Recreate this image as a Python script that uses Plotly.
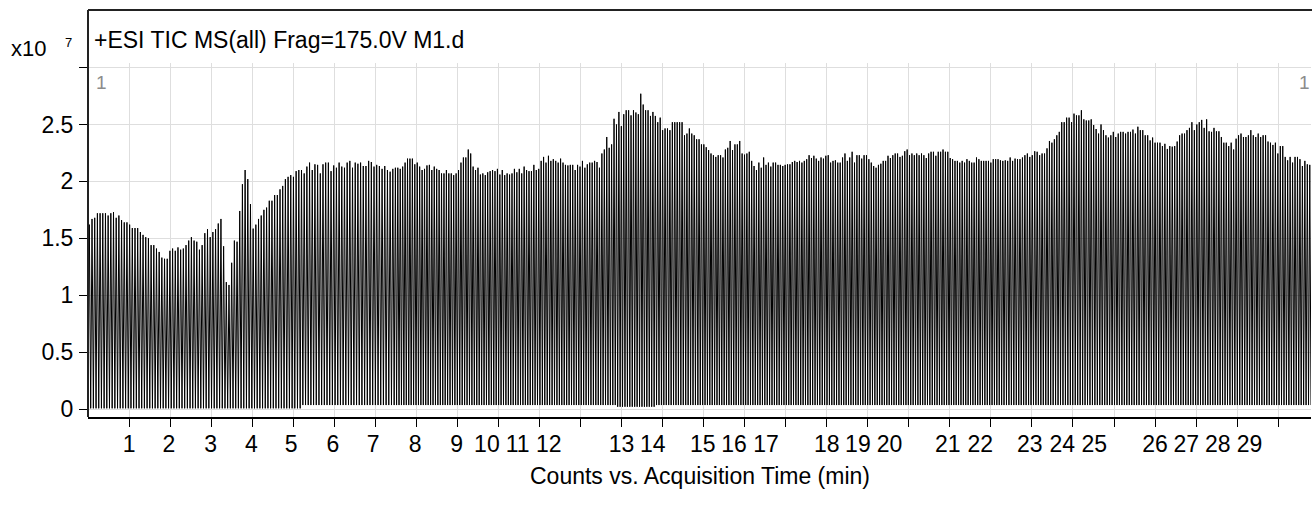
import numpy as np
import plotly.graph_objects as go

# ---------------- data (x10^7 counts) ----------------
# peak (upper) values of the alternating TIC trace, read segment by segment
peaks_a = [1.62, 1.67, 1.68, 1.72, 1.72, 1.72, 1.72, 1.70, 1.72, 1.73, 1.68, 1.70, 1.66, 1.64, 1.64, 1.62,
           1.59, 1.59, 1.59, 1.555, 1.53, 1.51, 1.50, 1.44, 1.44, 1.41, 1.38, 1.33, 1.32, 1.32, 1.39, 1.41,
           1.39, 1.42, 1.40, 1.41, 1.44, 1.48, 1.51, 1.48, 1.47, 1.40, 1.44, 1.545, 1.58, 1.51, 1.555, 1.58,
           1.63, 1.67, 1.43, 1.115, 1.09, 1.285, 1.48, 1.47, 1.74, 1.975, 2.10, 2.02, 1.80, 1.585, 1.62, 1.67,
           1.70, 1.75, 1.77, 1.83, 1.83, 1.88, 1.88, 1.93, 1.96, 2.02, 2.04, 2.055, 2.04, 2.09, 2.10, 2.10,
           2.07, 2.13, 2.165, 2.10, 2.15, 2.145, 2.07, 2.15, 2.165, 2.165, 2.09, 2.14, 2.12, 2.165, 2.13, 2.12,
           2.165, 2.18, 2.12, 2.165, 2.155, 2.165, 2.135, 2.135, 2.18, 2.17, 2.13, 2.145, 2.135, 2.11, 2.135,
           2.10, 2.085, 2.11]
peaks_b = [2.12, 2.12, 2.11, 2.13, 2.165, 2.20, 2.20, 2.20, 2.15, 2.165, 2.13, 2.10, 2.11, 2.14, 2.145, 2.10,
           2.13, 2.11, 2.10, 2.07, 2.07, 2.10, 2.07, 2.07, 2.055, 2.07, 2.10, 2.165, 2.21, 2.21, 2.28, 2.245,
           2.13, 2.10, 2.12, 2.06, 2.07, 2.055, 2.08, 2.09, 2.10, 2.09, 2.11, 2.06, 2.10, 2.055, 2.07, 2.06,
           2.07, 2.11, 2.08, 2.11, 2.07, 2.13, 2.10, 2.09, 2.09, 2.145, 2.10, 2.11, 2.18, 2.215, 2.165, 2.225,
           2.18, 2.195, 2.18, 2.165, 2.20, 2.165, 2.145, 2.14, 2.145, 2.145, 2.10, 2.145, 2.13, 2.18, 2.12,
           2.15, 2.165, 2.165, 2.18, 2.17, 2.12, 2.245, 2.28, 2.39, 2.295, 2.325, 2.55, 2.50, 2.61, 2.485,
           2.59, 2.625, 2.625, 2.58, 2.625, 2.605, 2.59, 2.77, 2.675, 2.625, 2.625, 2.575, 2.61, 2.575, 2.52,
           2.56, 2.45, 2.465, 2.465, 2.45, 2.52, 2.52, 2.52, 2.52, 2.52, 2.405, 2.42, 2.465, 2.42, 2.405, 2.37]
peaks_c = [2.37, 2.325, 2.325, 2.30, 2.275, 2.245, 2.23, 2.215, 2.23, 2.23, 2.21, 2.28, 2.295, 2.355, 2.275,
           2.325, 2.325, 2.355, 2.245, 2.235, 2.245, 2.26, 2.18, 2.135, 2.10, 2.165, 2.12, 2.21, 2.145, 2.165,
           2.13, 2.165, 2.165, 2.145, 2.145, 2.135, 2.145, 2.15, 2.15, 2.17, 2.18, 2.17, 2.18, 2.165, 2.18,
           2.195, 2.23, 2.205, 2.225, 2.20, 2.18, 2.21, 2.20, 2.225, 2.23, 2.165, 2.18, 2.185, 2.165, 2.165,
           2.21, 2.245, 2.18, 2.21, 2.26, 2.165, 2.23, 2.23, 2.20, 2.23, 2.23, 2.195, 2.165, 2.135, 2.12,
           2.145, 2.155, 2.18, 2.18, 2.225, 2.205, 2.23, 2.245, 2.245, 2.215, 2.225, 2.265, 2.28, 2.23, 2.245,
           2.23, 2.245, 2.23, 2.245, 2.23, 2.205, 2.245, 2.26, 2.26, 2.225, 2.26, 2.26, 2.28, 2.26, 2.26,
           2.205, 2.195, 2.18, 2.18, 2.165, 2.18, 2.165, 2.195, 2.18, 2.165, 2.165, 2.21, 2.195, 2.18, 2.18,
           2.18, 2.18, 2.165, 2.195, 2.195, 2.195, 2.185, 2.18]
peaks_d = [2.185, 2.18, 2.21, 2.18, 2.20, 2.195, 2.195, 2.21, 2.23, 2.245, 2.215, 2.23, 2.265, 2.26, 2.23,
           2.245, 2.245, 2.29, 2.355, 2.34, 2.37, 2.405, 2.435, 2.52, 2.52, 2.56, 2.56, 2.52, 2.595, 2.58,
           2.58, 2.625, 2.545, 2.535, 2.535, 2.545, 2.495, 2.46, 2.42, 2.50, 2.45, 2.405, 2.385, 2.405, 2.435,
           2.39, 2.42, 2.435, 2.435, 2.42, 2.435, 2.435, 2.455, 2.42, 2.48, 2.45, 2.45, 2.405, 2.405, 2.36,
           2.385, 2.34, 2.34, 2.34, 2.31, 2.33, 2.285, 2.31, 2.305, 2.31, 2.35, 2.405, 2.42, 2.42, 2.45, 2.47,
           2.52, 2.45, 2.50, 2.52, 2.54, 2.47, 2.545, 2.44, 2.435, 2.47, 2.44, 2.44, 2.39, 2.34, 2.34, 2.31,
           2.34, 2.28, 2.375, 2.405, 2.42, 2.39, 2.39, 2.405, 2.45, 2.405, 2.39, 2.42, 2.39, 2.405, 2.405,
           2.35, 2.34, 2.32, 2.34, 2.245, 2.31, 2.31, 2.215, 2.185, 2.215, 2.165, 2.215, 2.215, 2.195, 2.135,
           2.18, 2.15, 2.145]
# acquisition-time span (min) covered by each block of peaks
segment_edges_min = [0.0, 7.46, 14.86, 22.32, 29.8]
# baseline (low) level between peaks, by time window
baseline_breaks_min = [5.2, 12.9, 13.8]
baseline_levels = [0.006, 0.035, 0.02, 0.035]

# axis ticks
x_ticks = list(range(1, 30))
x_tick_labels = [str(v) for v in range(1, 30)]
x_label_pos = [1.0, 1.97, 2.99, 3.98, 4.95, 5.97, 6.95, 7.97, 8.98, 9.72, 10.47, 11.23, 13.0, 13.76,
               14.98, 15.74, 16.52, 18.0, 18.76, 19.53, 20.95, 21.74, 22.95, 23.74, 24.52, 26.0, 26.76,
               27.53, 28.3]
y_ticks = [0, 0.5, 1, 1.5, 2, 2.5, 3]
y_tick_labels = ["0", "0.5", "1", "1.5", "2", "2.5", ""]

# ---------------- build trace (low / high alternation) ----------------
times, vals = [], []
for seg, (t0, t1) in zip([peaks_a, peaks_b, peaks_c, peaks_d], zip(segment_edges_min[:-1], segment_edges_min[1:])):
    n = len(seg)
    dt = (t1 - t0) / (2 * n)
    for k, p in enumerate(seg):
        tl = t0 + 2 * k * dt
        lvl = baseline_levels[int(np.searchsorted(baseline_breaks_min, tl))]
        times += [tl, tl + dt]
        vals += [lvl, p]
times.append(segment_edges_min[-1])
vals.append(baseline_levels[-1])

FONT = "Liberation Sans, Arial, sans-serif"
TICK_SIZE = 23
fig = go.Figure()
fig.add_trace(go.Scatter(x=times, y=vals, mode="lines", line=dict(color="black", width=1),
                         showlegend=False, hoverinfo="skip"))
fig.add_trace(go.Scatter(x=[], y=[], xaxis="x2", showlegend=False))

W, H = 1312, 508
ML, MR, MT, MB = 88, 1, 10, 91
plot_top_px = 63
ydom_top = (H - MB - plot_top_px) / (H - MB - MT)

fig.update_layout(
    width=W, height=H,
    margin=dict(l=ML, r=MR, t=MT, b=MB, pad=0),
    paper_bgcolor="white", plot_bgcolor="white",
    font=dict(family=FONT, size=TICK_SIZE, color="black"),
    xaxis=dict(range=[0, 29.8], tickvals=x_ticks, showticklabels=False, ticks="outside", ticklen=8,
               tickwidth=1, tickcolor="black", showgrid=True, gridcolor="#dedede", gridwidth=1,
               zeroline=False, showline=True, linecolor="black", linewidth=2),
    xaxis2=dict(overlaying="x", anchor="y", side="bottom", range=[0, 29.8], tickvals=x_label_pos,
                ticktext=x_tick_labels, ticks="outside", ticklen=2, tickcolor="rgba(0,0,0,0)",
                showgrid=False, zeroline=False, showline=False, ticklabelstandoff=4,
                tickfont=dict(family=FONT, size=TICK_SIZE, color="black")),
    yaxis=dict(domain=[0, ydom_top], range=[-0.07, 3.04], tickvals=y_ticks, ticktext=y_tick_labels,
               ticks="outside", ticklen=8, tickcolor="black", showgrid=True, gridcolor="#dedede",
               zeroline=False, showline=False, ticklabelstandoff=1,
               tickfont=dict(family=FONT, size=TICK_SIZE, color="black")),
)

def px_x(p):
    return (p - ML) / (W - ML - MR)

def px_y(p):
    return (H - MB - p) / (H - MB - MT)

fig.add_shape(type="line", xref="paper", yref="paper", x0=0, x1=1.01, y0=1, y1=1,
              line=dict(color="#222", width=2))
fig.add_shape(type="line", xref="paper", yref="paper", x0=0, x1=0, y0=0, y1=1,
              line=dict(color="#222", width=2))

ann = [
    dict(text="x10", x=px_x(9), y=px_y(48), xanchor="left", yanchor="middle", size=22, color="black"),
    dict(text="7", x=px_x(63), y=px_y(43), xanchor="left", yanchor="middle", size=13, color="black"),
    dict(text="+ESI TIC MS(all) Frag=175.0V M1.d", x=px_x(92), y=px_y(40), xanchor="left",
         yanchor="middle", size=23, color="black"),
    dict(text="1", x=px_x(94), y=px_y(82), xanchor="left", yanchor="middle", size=19, color="#8c8c8c"),
    dict(text="1", x=px_x(1312), y=px_y(82), xanchor="right", yanchor="middle", size=19, color="#8c8c8c"),
    dict(text="Counts vs. Acquisition Time (min)", x=0.5, y=px_y(476), xanchor="center",
         yanchor="middle", size=23, color="black"),
]
for a in ann:
    fig.add_annotation(text=a["text"], x=a["x"], y=a["y"], xref="paper", yref="paper",
                       xanchor=a["xanchor"], yanchor=a["yanchor"], showarrow=False,
                       font=dict(family=FONT, size=a["size"], color=a["color"]))

fig.write_html("out.html", config={"displayModeBar": False},
               post_script="document.body.style.margin='0px';document.body.style.overflow='hidden';")
